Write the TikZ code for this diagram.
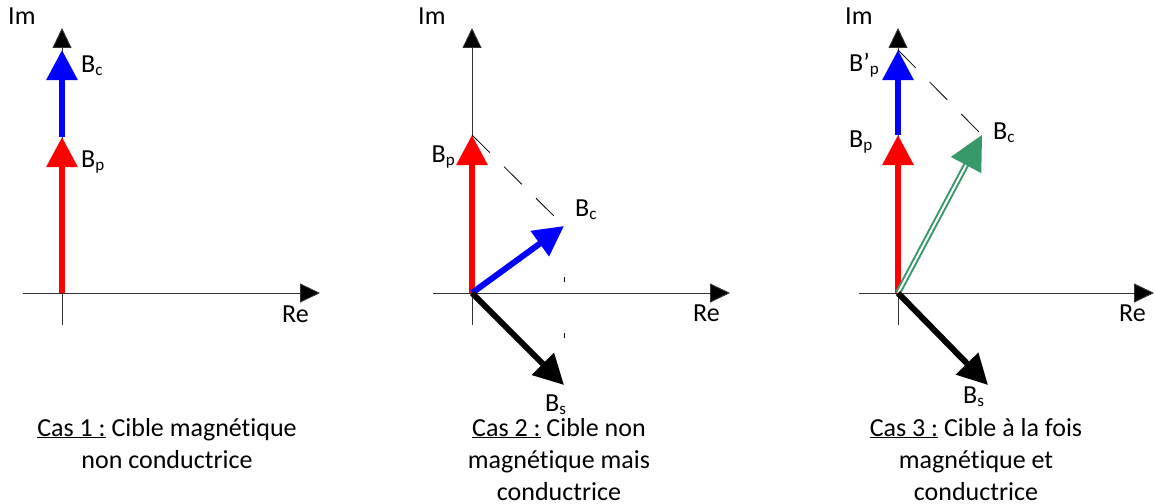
\documentclass[tikz,border=0pt]{standalone}
\usepackage{fontspec}
\setmainfont{Carlito}[Ligatures=NoCommon]
\usetikzlibrary{arrows.meta}
\definecolor{phRed}{RGB}{255,0,0}
\definecolor{phBlue}{RGB}{0,0,255}
\definecolor{phGreen}{RGB}{55,152,105}
\definecolor{phAxis}{RGB}{50,50,50}
\newcommand{\vsub}[1]{\raisebox{-3pt}{\fontsize{17}{17}\selectfont #1}}
\tikzset{
  vlabel/.style={font=\fontsize{26}{30}\selectfont, inner sep=0pt,
    anchor=base west},
  vcap/.style={font=\fontsize{26}{32}\selectfont, align=center,
    inner sep=0pt, anchor=base},
  vaxis/.style={draw=phAxis, line width=.9pt,
    -{Triangle[length=20pt,width=19pt,fill=black]}},
  vvec/.style={line width=6pt, -{Triangle[length=30pt,width=30pt]}},
  vproj/.style={draw=black, line width=.8pt, dash pattern=on 25pt off 20pt}
}
\begin{document}
\begin{tikzpicture}[x=1pt,y=1pt]
\path[use as bounding box] (0,0) rectangle (1155,-503);

% Cas 1
\coordinate (O1) at (62,-293);
\coordinate (ImA1) at (62,-325);
\coordinate (ImB1) at (62,-28);
\coordinate (ReA1) at (23,-293);
\coordinate (ReB1) at (320,-293);
\coordinate (Bp1) at (62,-137);
\coordinate (Bc1) at (62,-50);
\draw[vaxis] (ImA1) -- (ImB1);
\draw[vaxis] (ReA1) -- (ReB1);
\draw[vvec, draw=phRed] (O1) -- (Bp1);
\draw[vvec, draw=phBlue] (Bp1) -- (Bc1);
\node[vlabel] (im1) at (8,-25) {Im};
\node[vlabel] (re1) at (282,-322) {Re};
\node[vlabel] (lbc1) at (81,-72) {B\vsub{c}};
\node[vlabel] (lbp1) at (81,-167) {B\vsub{p}};
\node[vcap] (cap1) at (167,-468)
  {\underline{Cas 1 :} Cible magnétique\\non conductrice};

% Cas 2
\coordinate (O2) at (472,-293);
\coordinate (ImA2) at (472,-325);
\coordinate (ImB2) at (472,-28);
\coordinate (ReA2) at (433,-293);
\coordinate (ReB2) at (730,-293);
\coordinate (Bp2) at (472,-135);
\coordinate (Bc2) at (564,-226);
\coordinate (Bs2) at (564,-385);
\draw[vaxis] (ImA2) -- (ImB2);
\draw[vaxis] (ReA2) -- (ReB2);
\draw[vproj] (Bp2) -- (Bc2);
\draw[vproj, dash pattern=on 0pt off 51pt on 5pt off 0pt] (Bc2) -- (Bs2);
\draw[vvec, draw=phRed] (O2) -- (Bp2);
\draw[vvec, draw=phBlue] (O2) -- (Bc2);
\draw[vvec, draw=black] (O2) -- (Bs2);
\node[vlabel] (im2) at (418,-25) {Im};
\node[vlabel] (re2) at (693,-321) {Re};
\node[vlabel, anchor=base east] (lbp2) at (455,-162) {B\vsub{p}};
\node[vlabel] (lbc2) at (575,-216) {B\vsub{c}};
\node[vlabel] (lbs2) at (545,-411) {B\vsub{s}};
\node[vcap] (cap2) at (559,-500)
  {\underline{Cas 2 :} Cible non\\magnétique mais\\conductrice};

% Cas 3
\coordinate (O3) at (898,-293);
\coordinate (ImA3) at (898,-325);
\coordinate (ImB3) at (898,-28);
\coordinate (ReA3) at (859,-293);
\coordinate (ReB3) at (1154,-293);
\coordinate (Bp3) at (898,-135);
\coordinate (Bq3) at (898,-50);
\coordinate (Bc3) at (982,-135);
\coordinate (Bs3) at (988,-385);
\draw[vaxis] (ImA3) -- (ImB3);
\draw[vaxis] (ReA3) -- (ReB3);
\draw[vproj] (Bq3) -- (Bc3);
\draw[vvec, draw=phRed] (O3) -- (Bp3);
\draw[vvec, draw=phBlue] (Bp3) -- (Bq3);
\draw[draw=phGreen, line width=2pt, double=white, double distance=2pt,
  -{Triangle[length=34pt,width=34pt]}] (O3) -- (Bc3);
\draw[vvec, draw=black] (O3) -- (Bs3);
\node[vlabel] (im3) at (845,-25) {Im};
\node[vlabel] (re3) at (1119,-321) {Re};
\node[vlabel] (lbq3) at (849,-71) {B’\vsub{p}};
\node[vlabel] (lbp3) at (849,-147) {B\vsub{p}};
\node[vlabel] (lbc3) at (993,-139) {B\vsub{c}};
\node[vlabel] (lbs3) at (963,-403) {B\vsub{s}};
\node[vcap] (cap3) at (976,-500)
  {\underline{Cas 3 :} Cible à la fois\\magnétique et\\conductrice};
\end{tikzpicture}
\end{document}
